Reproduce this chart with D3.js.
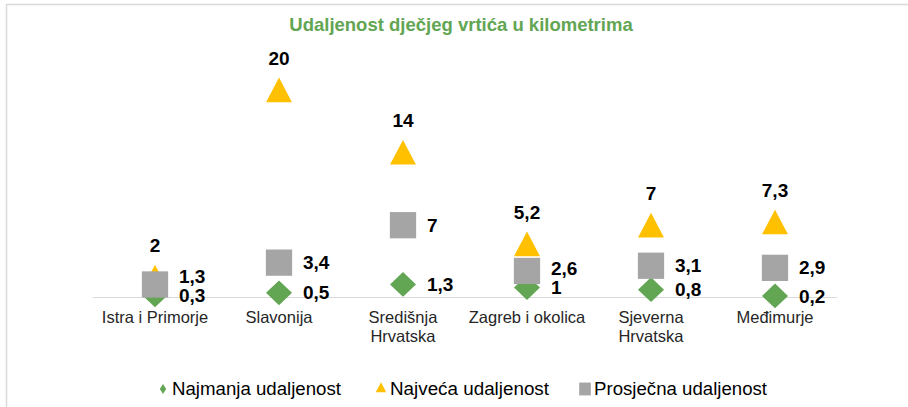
<!DOCTYPE html>
<html>
<head>
<meta charset="utf-8">
<script src="https://cdn.jsdelivr.net/npm/d3@7"></script>
<style>
  body { margin: 0; background: #fff; }
  svg text { font-family: "Liberation Sans", Arial, sans-serif; }
</style>
</head>
<body>
<div id="chart"></div>
<script>
// chart data
const categories = ["Istra i Primorje", "Slavonija", "Središnja Hrvatska", "Zagreb i okolica", "Sjeverna Hrvatska", "Međimurje"];
const minValues = [0.3, 0.5, 1.3, 1, 0.8, 0.2];
const maxValues = [2, 20, 14, 5.2, 7, 7.3];
const avgValues = [1.3, 3.4, 7, 2.6, 3.1, 2.9];
const seriesNames = ["Najmanja udaljenost", "Najveća udaljenost", "Prosječna udaljenost"];

const width = 908, height = 407;
const green = "#62A553", gold = "#FFC000", gray = "#A5A5A5";

const svg = d3.select("#chart").append("svg")
    .attr("width", width)
    .attr("height", height);

//Outer frame (only top and left edges are visible in the crop)
svg.append("path")
    .attr("d", "M6.5,407 V4.5 H908")
    .attr("fill", "none")
    .attr("stroke", "#d9d9d9")
    .attr("stroke-width", 1.5);

svg.append("text")
    .attr("x", 461)
    .attr("y", 31)
    .attr("text-anchor", "middle")
    .attr("font-size", "18.5px")
    .attr("font-weight", "700")
    .attr("fill", green)
    .text("Udaljenost dječjeg vrtića u kilometrima");

const x = d3.scaleBand().domain(categories).range([93, 837]);
const y = d3.scaleLinear().domain([0, 20]).range([298, 90]);
const cx = c => x(c) + x.bandwidth() / 2;
const fmt = v => String(v).replace(".", ",");

//Category axis: baseline only, no ticks
svg.append("line")
    .attr("x1", 93).attr("x2", 837)
    .attr("y1", 297.5).attr("y2", 297.5)
    .attr("stroke", "#d9d9d9")
    .attr("stroke-width", 1.2);

const catLabels = svg.append("g")
    .selectAll("text")
    .data(categories)
    .enter()
    .append("text")
    .attr("text-anchor", "middle")
    .attr("font-size", "16.5px")
    .attr("fill", "#262626");
catLabels.each(function (c) {
    //wrap the two-word region names like Excel does
    let lines = c.split(" ").length === 2 && c.length > 10 ? c.split(" ") : [c];
    d3.select(this).selectAll("tspan")
        .data(lines)
        .enter()
        .append("tspan")
        .attr("x", cx(c))
        .attr("y", (d, i) => 323 + i * 19)
        .text(d => d);
});

const markers = svg.append("g");
const sym = (type, size) => d3.symbol().type(type).size(size)();

//diamonds first, then triangles, squares on top
markers.selectAll(".min")
    .data(categories)
    .enter()
    .append("path")
    .attr("d", sym(d3.symbolDiamond2, 390))
    .attr("transform", (c, i) => "translate(" + cx(c) + "," + y(minValues[i]) + ") scale(1.05,1)")
    .attr("fill", green);

markers.selectAll(".max")
    .data(categories)
    .enter()
    .append("path")
    .attr("d", sym(d3.symbolTriangle, 290))
    .attr("transform", (c, i) => "translate(" + cx(c) + "," + (y(maxValues[i]) + 4) + ") scale(1,1.1)")
    .attr("fill", gold);

markers.selectAll(".avg")
    .data(categories)
    .enter()
    .append("path")
    .attr("d", sym(d3.symbolSquare, 690))
    .attr("transform", (c, i) => "translate(" + cx(c) + "," + y(avgValues[i]) + ")")
    .attr("fill", gray);

//Data labels
const labels = svg.append("g")
    .attr("font-size", "19px")
    .attr("font-weight", "700")
    .attr("fill", "#000");

categories.forEach((c, i) => {
    let dY = y(minValues[i]);
    let sY = y(avgValues[i]);
    //push the average label up when it would collide with the minimum label
    if (dY - sY < 19) sY = dY - 19;

    labels.append("text")
        .attr("x", cx(c))
        .attr("y", y(maxValues[i]) - 32)
        .attr("dy", "0.35em")
        .attr("text-anchor", "middle")
        .text(fmt(maxValues[i]));

    labels.append("text")
        .attr("x", cx(c) + 24)
        .attr("y", sY)
        .attr("dy", "0.35em")
        .text(fmt(avgValues[i]));

    labels.append("text")
        .attr("x", cx(c) + 24)
        .attr("y", dY)
        .attr("dy", "0.35em")
        .text(fmt(minValues[i]));
});

//Legend
const legendItems = [
    { name: seriesNames[0], type: d3.symbolDiamond2, size: 40, sx: 0.8, sy: 1.25, colour: green, x: 163, len: 169 },
    { name: seriesNames[1], type: d3.symbolTriangle, size: 48, sx: 1, sy: 1.1, colour: gold, x: 381, len: 159 },
    { name: seriesNames[2], type: d3.symbolSquare, size: 150, sx: 0.95, sy: 1.05, colour: gray, x: 585, len: 173 }
];
const legend = svg.append("g");
legendItems.forEach(item => {
    legend.append("path")
        .attr("d", sym(item.type, item.size))
        .attr("transform", "translate(" + item.x + ",389) scale(" + item.sx + "," + item.sy + ")")
        .attr("fill", item.colour);
    legend.append("text")
        .attr("x", item.x + 9)
        .attr("y", 395)
        .attr("font-size", "17.5px")
        .attr("textLength", item.len)
        .attr("lengthAdjust", "spacingAndGlyphs")
        .attr("fill", "#000")
        .text(item.name);
});
</script>
</body>
</html>
